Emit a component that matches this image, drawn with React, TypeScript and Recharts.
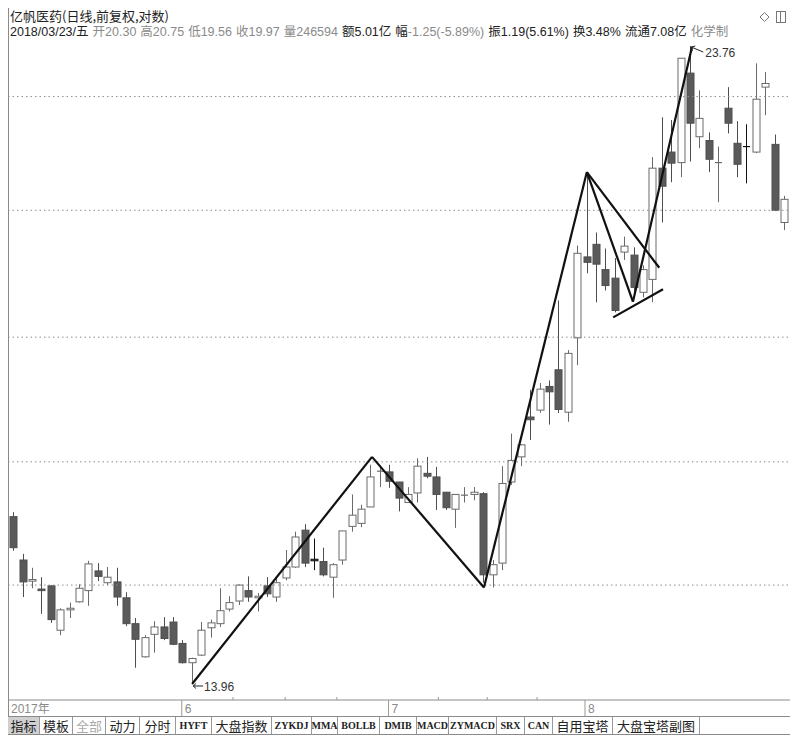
import React from "react";
import {
  ComposedChart,
  Bar,
  XAxis,
  YAxis,
  ReferenceLine,
  ReferenceDot,
} from "recharts";

// daily candles (log price axis)
const opens = [
  16.05, 15.48, 15.21, 15.11, 15.15, 14.6, 14.85, 14.95, 15.09, 15.34,
  15.19, 15.2, 15.0, 14.68, 14.28, 14.55, 14.64, 14.7, 14.44, 14.21,
  14.3, 14.63, 14.68, 14.86, 14.96, 15.09, 15.0, 15.15, 15.01, 15.25,
  15.39, 15.87, 15.49, 15.46, 15.26, 15.48, 15.92, 15.96, 16.18, 16.65,
  16.66, 16.52, 16.24, 16.37, 16.64, 16.59, 16.38, 16.15, 16.32, 16.35,
  16.36, 15.29, 15.44, 16.52, 16.87, 17.44, 17.54, 17.89, 18.14, 17.51,
  18.63, 19.93, 20.14, 19.72, 19.58, 20.01, 19.96, 19.35, 19.56, 21.46,
  21.75, 21.56, 23.23, 22.03, 21.96, 21.54, 22.56, 21.91, 21.85, 21.75,
  22.96, 21.89, 20.51,
];
const highs = [
  16.11, 15.56, 15.38, 15.26, 15.16, 14.87, 14.94, 15.17, 15.47, 15.44,
  15.39, 15.38, 15.07, 14.75, 14.54, 14.71, 14.76, 14.76, 14.48, 14.27,
  14.7, 14.73, 15.12, 15.02, 15.17, 15.27, 15.06, 15.26, 15.25, 15.61,
  15.85, 15.95, 15.76, 15.64, 15.44, 15.86, 16.35, 16.21, 16.76, 16.74,
  16.76, 16.52, 16.45, 16.85, 16.87, 16.73, 16.38, 16.35, 16.45, 16.45,
  16.38, 15.48, 16.74, 17.2, 17.05, 17.84, 17.94, 17.98, 19.22, 18.44,
  20.12, 21.39, 20.34, 20.07, 19.91, 20.27, 20.09, 19.79, 21.66, 22.39,
  22.34, 23.52, 23.76, 22.9, 22.11, 21.85, 22.96, 22.32, 22.26, 23.42,
  23.25, 22.07, 20.97,
];
const lows = [
  15.6, 15.01, 15.12, 14.8, 14.69, 14.54, 14.75, 14.94, 14.9, 15.21,
  15.16, 14.9, 14.65, 14.15, 14.27, 14.33, 14.48, 14.42, 14.2, 13.96,
  14.29, 14.51, 14.64, 14.83, 14.91, 14.95, 14.83, 15.01, 14.95, 15.22,
  15.38, 15.39, 15.35, 15.27, 15.0, 15.42, 15.85, 15.91, 16.18, 16.45,
  16.44, 16.12, 16.24, 16.24, 16.57, 16.14, 16.14, 15.9, 16.24, 16.27,
  15.19, 15.13, 15.35, 16.48, 16.74, 17.11, 17.5, 17.33, 17.5, 17.37,
  18.21, 19.66, 19.19, 19.38, 19.03, 19.88, 19.27, 19.27, 19.19, 20.51,
  21.21, 21.3, 21.58, 21.82, 21.39, 20.86, 22.09, 21.3, 21.19, 21.73,
  22.43, 20.72, 20.38,
];
const closes = [
  15.64, 15.2, 15.23, 15.09, 14.73, 14.85, 14.87, 15.12, 15.43, 15.27,
  15.26, 15.01, 14.68, 14.49, 14.51, 14.64, 14.5, 14.43, 14.21, 14.26,
  14.6, 14.69, 14.84, 14.94, 15.16, 15.01, 15.02, 15.05, 15.19, 15.39,
  15.78, 15.44, 15.47, 15.29, 15.42, 15.86, 16.07, 16.15, 16.59, 16.67,
  16.53, 16.3, 16.35, 16.74, 16.6, 16.35, 16.17, 16.35, 16.34, 16.38,
  15.29, 15.42, 16.5, 16.82, 17.04, 17.4, 17.85, 17.81, 17.55, 18.39,
  19.99, 19.84, 19.81, 19.46, 19.06, 20.11, 19.43, 19.72, 21.46, 21.14,
  21.55, 23.52, 22.28, 22.37, 21.62, 21.56, 22.28, 21.53, 21.83, 22.73,
  23.03, 20.72, 20.91,
];
const blackCandles = [33, 79];

const gridPrices = [22.78, 20.72, 18.64, 16.8, 15.16];

// hand-drawn pattern lines: [candle index, price]
const zigzag = [
  [20, 13.96],
  [39.14, 16.87],
  [51.05, 15.13],
  [62.0, 21.39],
  [66.9, 19.2],
  [73.18, 23.74],
];
const upperEdge = [
  [62.0, 21.39],
  [69.7, 19.75],
];
const lowerEdge = [
  [64.8, 18.95],
  [70.1, 19.4],
];

const monthTicks = [0.415, 18.9, 40.9, 61.8];
const monthLabels = ["2017年", "6", "7", "8"];
const weekTicks = [24.35, 29.9, 35.4, 46.2, 51.4, 56.7];

const lowMark = { i: 20, price: 13.96, label: "13.96" };
const highMark = { i: 73, price: 23.76, label: "23.76" };

const title = "亿帆医药(日线,前复权,对数)";
// each word of the quote line: [label, value, label dimmed, value dimmed]
const quoteWords: [string, string, boolean, boolean][] = [
  ["2018/03/23/五", "", false, false],
  ["开", "20.30", true, true],
  ["高", "20.75", true, true],
  ["低", "19.56", true, true],
  ["收", "19.97", true, true],
  ["量", "246594", true, true],
  ["额", "5.01亿", false, false],
  ["幅", "-1.25(-5.89%)", false, true],
  ["振", "1.19(5.61%)", false, false],
  ["换", "3.48%", false, false],
  ["流通", "7.08亿", false, false],
  ["化学制", "", true, true],
];

const toolbarLabels = [
  "指标", "模板", "全部", "动力", "分时", "HYFT", "大盘指数", "ZYKDJ", "MMA",
  "BOLLB", "DMIB", "MACD", "ZYMACD", "SRX", "CAN", "自用宝塔", "大盘宝塔副图",
];
const toolbarEdges = [
  8, 40, 73, 106, 140, 176, 212, 272, 312, 338, 380, 417, 449, 497, 525, 553,
  613, 700,
];

const candles = opens.map((o, k) => ({
  i: k + 1,
  open: o,
  high: highs[k],
  low: lows[k],
  close: closes[k],
  range: [lows[k], highs[k]],
  black: blackCandles.includes(k + 1),
}));

const SANS = '"Liberation Sans", Arial, "Noto Sans CJK SC", sans-serif';
const CJK = '"Noto Sans CJK SC", "Liberation Sans", sans-serif';
const DIM = "#8a8a8a";
const INK = "#222";

function Candle(props: any) {
  const { x, y, width, height, payload } = props;
  if (x == null || y == null) return null;
  const { open, close, high, low, black } = payload;
  const lh = Math.log(high);
  const span = lh - Math.log(low) || 1;
  const py = (p: number) => y + (height * (lh - Math.log(p))) / span;
  const up = close >= open;
  const top = py(Math.max(open, close));
  const bot = py(Math.min(open, close));
  const cx = Math.round(x + width / 2) + 0.5;
  const left = cx - 3.5;
  const edge = black ? "#111" : up ? "#6a6a6a" : "#4e4e4e";
  const bodyH = bot - top;
  return (
    <g>
      <line x1={cx} x2={cx} y1={y} y2={y + height} stroke={edge} strokeWidth={1} />
      {bodyH < 1.5 ? (
        <line x1={left} x2={left + 7} y1={top} y2={top} stroke={edge} strokeWidth={1.2} />
      ) : (
        <rect
          x={left}
          y={top}
          width={7}
          height={bodyH}
          fill={up ? "#fff" : "#5a5a5a"}
          stroke={edge}
          strokeWidth={1}
        />
      )}
    </g>
  );
}

function AxisTick(props: any) {
  const { x, y, payload } = props;
  const v = payload.value;
  const m = monthTicks.indexOf(v);
  if (m >= 0) {
    return (
      <g>
        {m > 0 && <line x1={x} x2={x} y1={y} y2={y + 16} stroke="#999" />}
        <text x={x + 3} y={y + 13} fill={DIM} fontSize={12} fontFamily={SANS}>
          {monthLabels[m]}
        </text>
      </g>
    );
  }
  return <line x1={x} x2={x} y1={y - 3} y2={y} stroke="#999" />;
}

function LowMarker(props: any) {
  const { cx, cy } = props;
  if (cx == null) return null;
  const ty = cy + 2;
  return (
    <g>
      <line x1={cx + 1} y1={ty} x2={cx + 11} y2={ty} stroke="#222" />
      <line x1={cx + 1} y1={ty} x2={cx + 4} y2={ty - 2.5} stroke="#222" />
      <line x1={cx + 1} y1={ty} x2={cx + 4} y2={ty + 2.5} stroke="#222" />
      <text x={cx + 12} y={ty + 5} fontSize={12} fill="#333" fontFamily={SANS}>
        {lowMark.label}
      </text>
    </g>
  );
}

function HighMarker(props: any) {
  const { cx, cy } = props;
  if (cx == null) return null;
  return (
    <g>
      <line x1={cx + 1} y1={cy + 1} x2={cx + 13} y2={cy + 6} stroke="#222" />
      <line x1={cx + 1} y1={cy + 1} x2={cx + 2} y2={cy + 5} stroke="#222" />
      <line x1={cx + 1} y1={cy + 1} x2={cx + 5} y2={cy} stroke="#222" />
      <text x={cx + 15} y={cy + 11} fontSize={12} fill="#333" fontFamily={SANS}>
        {highMark.label}
      </text>
    </g>
  );
}

const seg = (a: number[], b: number[]) => [
  { x: a[0], y: a[1] },
  { x: b[0], y: b[1] },
];

export default function App() {
  const allTicks = [...monthTicks, ...weekTicks].sort((a, b) => a - b);
  return (
    <div
      style={{
        position: "absolute",
        left: 0,
        top: 0,
        width: 801,
        height: 742,
        background: "#fff",
        overflow: "hidden",
      }}
    >
      <div style={{ position: "absolute", left: 0, top: 0 }}>
        <ComposedChart
          width={801}
          height={742}
          data={candles}
          margin={{ top: 40, right: 11, bottom: 25, left: 8 }}
        >
          <XAxis
            dataKey="i"
            type="number"
            domain={[0.415, 83.61]}
            allowDataOverflow
            ticks={allTicks}
            interval={0}
            tick={<AxisTick />}
            tickLine={false}
            tickSize={0}
            tickMargin={0}
            height={17}
            axisLine={{ stroke: "#8a8a8a" }}
          />
          <YAxis
            hide
            type="number"
            scale="log"
            domain={[13.775, 23.88]}
            allowDataOverflow
          />
          {gridPrices.map((p) => (
            <ReferenceLine
              key={p}
              y={p}
              stroke="#8c8c8c"
              strokeDasharray="1.5 3"
            />
          ))}
          <Bar
            dataKey="range"
            barSize={7}
            shape={<Candle />}
            isAnimationActive={false}
          />
          {zigzag.slice(1).map((pt, k) => (
            <ReferenceLine
              key={"z" + k}
              segment={seg(zigzag[k], pt)}
              stroke="#111"
              strokeWidth={2.2}
              ifOverflow="visible"
            />
          ))}
          <ReferenceLine
            segment={seg(upperEdge[0], upperEdge[1])}
            stroke="#111"
            strokeWidth={2.2}
            ifOverflow="visible"
          />
          <ReferenceLine
            segment={seg(lowerEdge[0], lowerEdge[1])}
            stroke="#111"
            strokeWidth={2.2}
            ifOverflow="visible"
          />
          <ReferenceDot
            x={lowMark.i}
            y={lowMark.price}
            r={0}
            shape={<LowMarker />}
            ifOverflow="visible"
          />
          <ReferenceDot
            x={highMark.i}
            y={highMark.price}
            r={0}
            shape={<HighMarker />}
            ifOverflow="visible"
          />
        </ComposedChart>
      </div>

      {/* left border */}
      <div
        style={{
          position: "absolute",
          left: 8,
          top: 8,
          width: 1,
          height: 726,
          background: "#8a8a8a",
        }}
      />

      {/* header */}
      <div
        style={{
          position: "absolute",
          left: 10,
          top: 8,
          fontSize: 13,
          lineHeight: "16px",
          fontFamily: CJK,
          color: INK,
          whiteSpace: "nowrap",
        }}
      >
        {title}
      </div>
      <div
        style={{
          position: "absolute",
          left: 10,
          top: 24,
          fontSize: 12.5,
          lineHeight: "16px",
          fontFamily: SANS,
          whiteSpace: "nowrap",
        }}
      >
        {quoteWords.map(([lab, val, dimL, dimV], k) => (
          <span key={k} style={{ marginRight: 4 }}>
            <span style={{ color: dimL ? DIM : INK }}>{lab}</span>
            {val && <span style={{ color: dimV ? DIM : INK }}>{val}</span>}
          </span>
        ))}
      </div>
      <svg
        style={{ position: "absolute", left: 758, top: 10 }}
        width={30}
        height={16}
      >
        <path d="M6.5 2.5 L11 7 L6.5 11.5 L2 7 Z" fill="none" stroke="#777" />
        <rect x={18.5} y={1.5} width={9} height={11} fill="none" stroke="#777" />
        <line x1={22.5} x2={22.5} y1={1.5} y2={12.5} stroke="#777" />
      </svg>

      {/* date row bottom line and toolbar */}
      <div
        style={{
          position: "absolute",
          left: 8,
          top: 716,
          width: 782,
          height: 1,
          background: "#8a8a8a",
        }}
      />
      <div
        style={{
          position: "absolute",
          left: 8,
          top: 734,
          width: 782,
          height: 1,
          background: "#8a8a8a",
        }}
      />
      {toolbarLabels.map((lab, k) => {
        const ascii = /^[A-Z]+$/.test(lab);
        return (
          <div
            key={lab}
            style={{
              position: "absolute",
              left: toolbarEdges[k],
              top: 717,
              width: toolbarEdges[k + 1] - toolbarEdges[k],
              height: 17,
              boxSizing: "border-box",
              borderRight: "1px solid #999",
              background: k === 0 ? "#d0d0d0" : "transparent",
              display: "flex",
              alignItems: "center",
              justifyContent: "center",
              fontSize: ascii ? 10 : 13,
              lineHeight: "17px",
              fontWeight: ascii ? "bold" : "normal",
              fontFamily: ascii
                ? '"Liberation Serif", "DejaVu Serif", serif'
                : CJK,
              color: lab === "全部" ? "#aaa" : INK,
              whiteSpace: "nowrap",
            }}
          >
            {lab}
          </div>
        );
      })}
    </div>
  );
}
